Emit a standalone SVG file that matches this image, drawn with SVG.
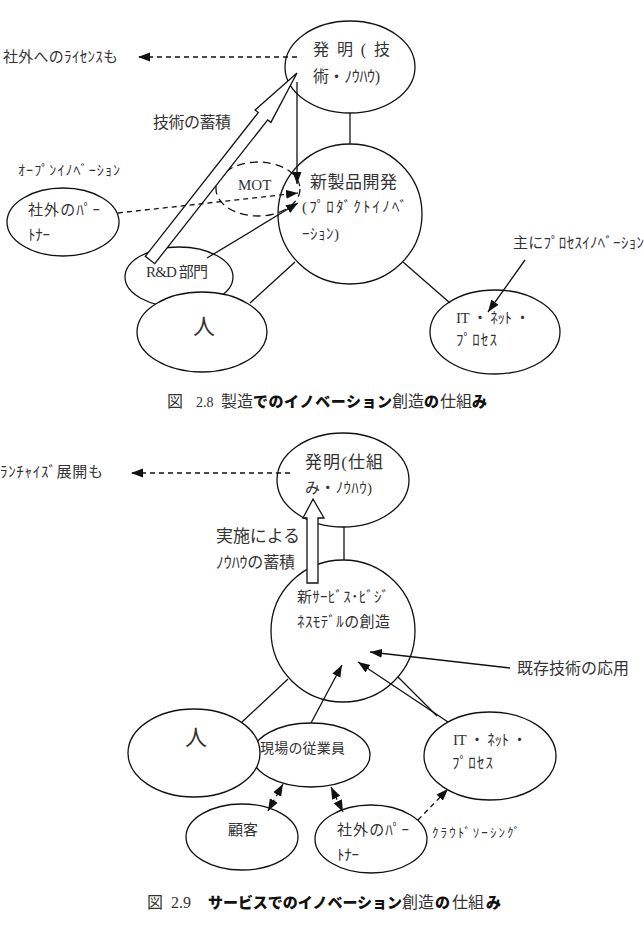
<svg xmlns="http://www.w3.org/2000/svg" width="644" height="928" viewBox="0 0 644 928">
<defs>
<style>
.n{fill:#fff;stroke:#111;stroke-width:1.3}
.c{stroke:#111;stroke-width:1.3;fill:none}
.d{stroke-dasharray:5 4}
.t{font-family:"Liberation Serif","Noto Sans CJK JP",serif;fill:#333}
.b{font-family:"Noto Sans CJK JP",sans-serif;font-weight:900;fill:#111}
</style>
<marker id="ah" viewBox="0 0 12 10" refX="12" refY="5" markerWidth="12" markerHeight="10" markerUnits="userSpaceOnUse" orient="auto-start-reverse">
<path d="M0,0.5 L12,5 L0,9.5 z" fill="#111"/>
</marker>
</defs>
<rect width="644" height="928" fill="#fff"/>

<!-- ============ Figure 2.8 ============ -->
<g id="n-hatsumei1">
<ellipse class="n" cx="350" cy="67" rx="65" ry="46"/>
<text class="t" x="313" y="55" font-size="16" textLength="77">発 明 ( 技</text>
<text class="t" x="313" y="82" font-size="16" textLength="67">術・ﾉｳﾊｳ)</text>
</g>
<g id="n-shinseihin">
<ellipse class="n" cx="350" cy="214" rx="72" ry="70"/>
<text class="t" x="310" y="188" font-size="17" textLength="87">新製品開発</text>
<text class="t" x="302" y="212" font-size="15" textLength="105">(ﾌﾟﾛﾀﾞｸﾄｲﾉﾍﾞ</text>
<text class="t" x="302" y="239" font-size="15" textLength="37">ｰｼｮﾝ)</text>
</g>
<g id="n-mot">
<ellipse cx="258" cy="189" rx="42" ry="27" fill="none" stroke="#111" stroke-width="1.3" stroke-dasharray="8 5"/>
<text class="t" x="238" y="190" font-size="15">MOT</text>
</g>
<g id="n-partner1">
<ellipse class="n" cx="63" cy="222" rx="56" ry="34"/>
<text class="t" x="28" y="215" font-size="15" textLength="72">社外のﾊﾟｰ</text>
<text class="t" x="28" y="240" font-size="15" textLength="22">ﾄﾅｰ</text>
</g>
<g id="n-rd">
<ellipse class="n" cx="179" cy="277" rx="54" ry="30"/>
<text class="t" x="146" y="277" font-size="15" textLength="62">R&amp;D 部門</text>
</g>
<g id="n-hito1">
<ellipse class="n" cx="202" cy="332" rx="65" ry="40"/>
<text class="t" x="193" y="334" font-size="22">人</text>
</g>
<g id="n-it1">
<ellipse class="n" cx="495" cy="332" rx="65" ry="42"/>
<text class="t" x="456" y="323" font-size="15" textLength="74">IT ・ ﾈｯﾄ ・</text>
<text class="t" x="456" y="345" font-size="15" textLength="41">ﾌﾟﾛｾｽ</text>
</g>
<g id="labels1">
<text class="t" x="3" y="62" font-size="15" textLength="115">社外へのﾗｲｾﾝｽも</text>
<text class="t" x="153" y="128" font-size="16" textLength="78">技術の蓄積</text>
<text class="t" x="18" y="175" font-size="14" textLength="102">ｵｰﾌﾟﾝｲﾉﾍﾞｰｼｮﾝ</text>
<text class="t" x="513" y="248" font-size="15" textLength="131">主にﾌﾟﾛｾｽｲﾉﾍﾞｰｼｮﾝ</text>
</g>
<g id="connectors1">
<line class="c" x1="350" y1="113" x2="350" y2="144"/>
<line class="c" x1="295" y1="262" x2="250" y2="303"/>
<line class="c" x1="403" y1="262" x2="450" y2="303"/>
<polygon class="n" points="145.3,256.3 258.3,112.5 255.1,110 297,73 270.9,122.4 267.7,119.9 154.7,263.7"/>
<line class="c" x1="297" y1="82" x2="297" y2="184" marker-end="url(#ah)"/>
<line class="c d" x1="297" y1="57" x2="138" y2="57" marker-end="url(#ah)"/>
<line class="c d" x1="118" y1="213" x2="298" y2="193" marker-end="url(#ah)"/>
<line class="c" x1="207" y1="258" x2="298" y2="203" marker-end="url(#ah)"/>
<line class="c" x1="525" y1="260" x2="488" y2="312" marker-end="url(#ah)"/>
</g>
<g id="caption1">
<text y="407">
<tspan class="t" x="167" font-size="16">図</tspan><tspan class="t" x="196" font-size="14">2.8</tspan><tspan class="t" x="221" font-size="16">製造</tspan><tspan class="b" x="253" font-size="15" textLength="139">でのイノベーション</tspan><tspan class="t" x="392" font-size="16">創造</tspan><tspan class="b" x="424" font-size="15">の</tspan><tspan class="t" x="440" font-size="16">仕組</tspan><tspan class="b" x="472" font-size="15">み</tspan>
</text>
</g>

<!-- ============ Figure 2.9 ============ -->
<g id="n-hatsumei2">
<ellipse class="n" cx="343" cy="480" rx="66" ry="47"/>
<text class="t" x="305" y="468" font-size="17" textLength="78">発明(仕組</text>
<text class="t" x="305" y="493" font-size="15" textLength="67">み・ﾉｳﾊｳ)</text>
</g>
<g id="n-newservice">
<ellipse class="n" cx="343" cy="631" rx="72" ry="71"/>
<text class="t" x="297" y="602" font-size="15" textLength="92">新ｻｰﾋﾞｽ･ﾋﾞｼﾞ</text>
<text class="t" x="297" y="627" font-size="15" textLength="93">ﾈｽﾓﾃﾞﾙの創造</text>
</g>
<g id="n-genba">
<ellipse class="n" cx="311" cy="755" rx="59" ry="32"/>
</g>
<g id="n-hito2">
<ellipse class="n" cx="194" cy="753" rx="66" ry="44"/>
<text class="t" x="185" y="745" font-size="22">人</text>
</g>
<text class="t" x="260" y="753" font-size="14" textLength="85">現場の従業員</text>
<g id="n-it2">
<ellipse class="n" cx="490" cy="756" rx="66" ry="44"/>
<text class="t" x="453" y="745" font-size="15" textLength="74">IT ・ ﾈｯﾄ ・</text>
<text class="t" x="452" y="768" font-size="15" textLength="41">ﾌﾟﾛｾｽ</text>
</g>
<g id="n-kokyaku">
<ellipse class="n" cx="242" cy="837" rx="56" ry="33"/>
<text class="t" x="228" y="835" font-size="15">顧客</text>
</g>
<g id="n-partner2">
<ellipse class="n" cx="371" cy="839" rx="56" ry="34"/>
<text class="t" x="337" y="835" font-size="15" textLength="72">社外のﾊﾟｰ</text>
<text class="t" x="337" y="860" font-size="15" textLength="22">ﾄﾅｰ</text>
</g>
<g id="labels2">
<text class="t" x="0" y="477" font-size="15" textLength="103">ﾗﾝﾁｬｲｽﾞ展開も</text>
<text class="t" x="216" y="542" font-size="17" textLength="84">実施による</text>
<text class="t" x="216" y="568" font-size="16" textLength="79">ﾉｳﾊｳの蓄積</text>
<text class="t" x="517" y="674" font-size="16">既存技術の応用</text>
<text class="t" x="432" y="837" font-size="13" textLength="88">ｸﾗｳﾄﾞｿｰｼﾝｸﾞ</text>
</g>
<g id="connectors2">
<line class="c" x1="344" y1="527" x2="344" y2="560"/>
<polygon class="n" points="307,583 307,518 303,518 313,499 324,518 318,518 318,583"/>
<line class="c d" x1="290" y1="473" x2="131" y2="473" marker-end="url(#ah)"/>
<line class="c" x1="242" y1="722" x2="288" y2="679"/>
<line class="c" x1="311" y1="723" x2="342" y2="665" marker-end="url(#ah)"/>
<line class="c" x1="398" y1="677" x2="437" y2="716"/>
<line class="c" x1="448" y1="722" x2="358" y2="662" marker-end="url(#ah)"/>
<line class="c" x1="510" y1="668" x2="370" y2="652" marker-end="url(#ah)"/>
<line class="c d" x1="283" y1="784" x2="268" y2="811" marker-start="url(#ah)" marker-end="url(#ah)"/>
<line class="c d" x1="331" y1="787" x2="343" y2="812" marker-start="url(#ah)" marker-end="url(#ah)"/>
<line class="c d" x1="418" y1="820" x2="448" y2="789" marker-end="url(#ah)"/>
</g>
<g id="caption2">
<text y="908">
<tspan class="t" x="147" font-size="16">図</tspan><tspan class="t" x="171" font-size="16">2.9</tspan><tspan class="b" x="208" font-size="15" textLength="194">サービスでのイノベーション</tspan><tspan class="t" x="402" font-size="16">創造</tspan><tspan class="b" x="435" font-size="15">の</tspan><tspan class="t" x="452" font-size="16">仕組</tspan><tspan class="b" x="486" font-size="15">み</tspan>
</text>
</g>
</svg>
